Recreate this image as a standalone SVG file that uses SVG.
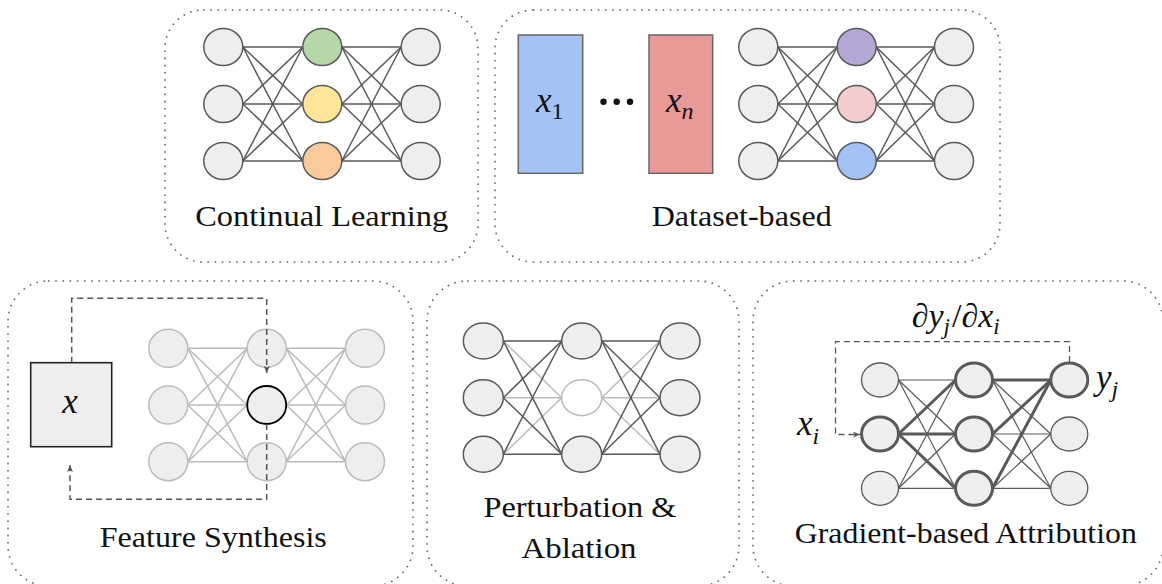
<svg xmlns="http://www.w3.org/2000/svg" width="1162" height="584" viewBox="0 0 1162 584">
<style>
.panel{fill:none;stroke:#666;stroke-width:1.6;stroke-dasharray:1.6 5.6}
.n{fill:#eeeeee;stroke:#595959;stroke-width:1.5}
.nl{fill:#eeeeee;stroke:#bbbbbb;stroke-width:1.5}
.nt{fill:#eeeeee;stroke:#595959;stroke-width:3}
.n5{fill:#eeeeee;stroke:#595959;stroke-width:1.3}
.e line{stroke:#595959;stroke-width:1.5}
.e5 line{stroke:#595959;stroke-width:1.2}
line.el{stroke:#bbbbbb;stroke-width:1.5}
line.et{stroke:#595959;stroke-width:3}
.dash{fill:none;stroke:#555;stroke-width:1.5;stroke-dasharray:6 4}
.lbl{font-size:29px;fill:#111;text-anchor:middle}
.m{fill:#111}
.i{font-style:italic}
</style>
<defs>
<marker id="ah" markerWidth="8" markerHeight="8" refX="7" refY="3" orient="auto" markerUnits="userSpaceOnUse"><path d="M0,0 L7,3 L0,6 L1.8,3 z" fill="#555"/></marker>
</defs>
<rect fill="#ffffff" x="0" y="0" width="1162" height="584"/>

<g id="frames">
<rect class="panel" x="165" y="10" width="313" height="252" rx="38"/>
<rect class="panel" x="495" y="10" width="505" height="252" rx="38"/>
<rect class="panel" x="8" y="281" width="405" height="305" rx="40"/>
<rect class="panel" x="427" y="281" width="312" height="305" rx="40"/>
<rect class="panel" x="753" y="281" width="410" height="305" rx="40"/>
</g>

<g id="connectors">
<g class="e" id="edges-p1">
<line x1="242.8" y1="47" x2="302.8" y2="47"/><line x1="242.8" y1="47" x2="302.8" y2="104"/><line x1="242.8" y1="47" x2="302.8" y2="161"/>
<line x1="242.8" y1="104" x2="302.8" y2="47"/><line x1="242.8" y1="104" x2="302.8" y2="104"/><line x1="242.8" y1="104" x2="302.8" y2="161"/>
<line x1="242.8" y1="161" x2="302.8" y2="47"/><line x1="242.8" y1="161" x2="302.8" y2="104"/><line x1="242.8" y1="161" x2="302.8" y2="161"/>
<line x1="341.8" y1="47" x2="401.2" y2="47"/><line x1="341.8" y1="47" x2="401.2" y2="104"/><line x1="341.8" y1="47" x2="401.2" y2="161"/>
<line x1="341.8" y1="104" x2="401.2" y2="47"/><line x1="341.8" y1="104" x2="401.2" y2="104"/><line x1="341.8" y1="104" x2="401.2" y2="161"/>
<line x1="341.8" y1="161" x2="401.2" y2="47"/><line x1="341.8" y1="161" x2="401.2" y2="104"/><line x1="341.8" y1="161" x2="401.2" y2="161"/>
</g>
<g class="e" id="edges-p2">
<line x1="777.8" y1="47" x2="837.2" y2="47"/><line x1="777.8" y1="47" x2="837.2" y2="104"/><line x1="777.8" y1="47" x2="837.2" y2="161"/>
<line x1="777.8" y1="104" x2="837.2" y2="47"/><line x1="777.8" y1="104" x2="837.2" y2="104"/><line x1="777.8" y1="104" x2="837.2" y2="161"/>
<line x1="777.8" y1="161" x2="837.2" y2="47"/><line x1="777.8" y1="161" x2="837.2" y2="104"/><line x1="777.8" y1="161" x2="837.2" y2="161"/>
<line x1="876.2" y1="47" x2="934.5" y2="47"/><line x1="876.2" y1="47" x2="934.5" y2="104"/><line x1="876.2" y1="47" x2="934.5" y2="161"/>
<line x1="876.2" y1="104" x2="934.5" y2="47"/><line x1="876.2" y1="104" x2="934.5" y2="104"/><line x1="876.2" y1="104" x2="934.5" y2="161"/>
<line x1="876.2" y1="161" x2="934.5" y2="47"/><line x1="876.2" y1="161" x2="934.5" y2="104"/><line x1="876.2" y1="161" x2="934.5" y2="161"/>
</g>
<g id="edges-p3">
<line class="el" x1="187.8" y1="348.3" x2="247.2" y2="348.3"/><line class="el" x1="187.8" y1="348.3" x2="247.2" y2="405"/><line class="el" x1="187.8" y1="348.3" x2="247.2" y2="461.7"/>
<line class="el" x1="187.8" y1="405" x2="247.2" y2="348.3"/><line class="el" x1="187.8" y1="405" x2="247.2" y2="405"/><line class="el" x1="187.8" y1="405" x2="247.2" y2="461.7"/>
<line class="el" x1="187.8" y1="461.7" x2="247.2" y2="348.3"/><line class="el" x1="187.8" y1="461.7" x2="247.2" y2="405"/><line class="el" x1="187.8" y1="461.7" x2="247.2" y2="461.7"/>
<line class="el" x1="286.2" y1="348.3" x2="345.5" y2="348.3"/><line class="el" x1="286.2" y1="348.3" x2="345.5" y2="405"/><line class="el" x1="286.2" y1="348.3" x2="345.5" y2="461.7"/>
<line class="el" x1="286.2" y1="405" x2="345.5" y2="348.3"/><line class="el" x1="286.2" y1="405" x2="345.5" y2="405"/><line class="el" x1="286.2" y1="405" x2="345.5" y2="461.7"/>
<line class="el" x1="286.2" y1="461.7" x2="345.5" y2="348.3"/><line class="el" x1="286.2" y1="461.7" x2="345.5" y2="405"/><line class="el" x1="286.2" y1="461.7" x2="345.5" y2="461.7"/>
</g>
<g class="e" id="edges-p4">
<line class="el" x1="503.3" y1="341" x2="561.7" y2="397.7"/><line class="el" x1="503.3" y1="397.7" x2="561.7" y2="397.7"/><line class="el" x1="503.3" y1="454.3" x2="561.7" y2="397.7"/>
<line class="el" x1="601.7" y1="397.7" x2="660" y2="341"/><line class="el" x1="601.7" y1="397.7" x2="660" y2="397.7"/><line class="el" x1="601.7" y1="397.7" x2="660" y2="454.3"/>
<line x1="503.3" y1="341" x2="561.7" y2="341"/><line x1="503.3" y1="341" x2="561.7" y2="454.3"/>
<line x1="503.3" y1="397.7" x2="561.7" y2="341"/><line x1="503.3" y1="397.7" x2="561.7" y2="454.3"/>
<line x1="503.3" y1="454.3" x2="561.7" y2="341"/><line x1="503.3" y1="454.3" x2="561.7" y2="454.3"/>
<line x1="601.7" y1="341" x2="660" y2="341"/><line x1="601.7" y1="341" x2="660" y2="397.7"/><line x1="601.7" y1="341" x2="660" y2="454.3"/>
<line x1="601.7" y1="454.3" x2="660" y2="341"/><line x1="601.7" y1="454.3" x2="660" y2="397.7"/><line x1="601.7" y1="454.3" x2="660" y2="454.3"/>
</g>
<g class="e5" id="edges-p5">
<line x1="898.5" y1="380" x2="955.5" y2="380"/><line x1="898.5" y1="380" x2="955.5" y2="434"/><line x1="898.5" y1="380" x2="955.5" y2="488.3"/>
<line x1="898.5" y1="488.3" x2="955.5" y2="380"/><line x1="898.5" y1="488.3" x2="955.5" y2="434"/><line x1="898.5" y1="488.3" x2="955.5" y2="488.3"/>
<line x1="992.5" y1="380" x2="1050.8" y2="434"/><line x1="992.5" y1="380" x2="1050.8" y2="488.3"/>
<line x1="992.5" y1="434" x2="1050.8" y2="434"/><line x1="992.5" y1="434" x2="1050.8" y2="488.3"/>
<line x1="992.5" y1="488.3" x2="1050.8" y2="434"/><line x1="992.5" y1="488.3" x2="1050.8" y2="488.3"/>
<line class="et" x1="898.5" y1="434" x2="955.5" y2="380"/><line class="et" x1="898.5" y1="434" x2="955.5" y2="434"/><line class="et" x1="898.5" y1="434" x2="955.5" y2="488.3"/>
<line class="et" x1="992.5" y1="380" x2="1050.8" y2="380"/><line class="et" x1="992.5" y1="434" x2="1050.8" y2="380"/><line class="et" x1="992.5" y1="488.3" x2="1050.8" y2="380"/>
</g>
</g>

<g id="continual-learning">
<g id="p1-l1"><ellipse class="n" cx="223.3" cy="47" rx="19.5" ry="18.5"/></g>
<g id="p1-l2"><ellipse class="n" cx="223.3" cy="104" rx="19.5" ry="18.5"/></g>
<g id="p1-l3"><ellipse class="n" cx="223.3" cy="161" rx="19.5" ry="18.5"/></g>
<g id="p1-m1"><ellipse class="n" cx="322.3" cy="47" rx="19.5" ry="18.5" style="fill:#b6d7a8"/></g>
<g id="p1-m2"><ellipse class="n" cx="322.3" cy="104" rx="19.5" ry="18.5" style="fill:#ffe599"/></g>
<g id="p1-m3"><ellipse class="n" cx="322.3" cy="161" rx="19.5" ry="18.5" style="fill:#f9cb9c"/></g>
<g id="p1-r1"><ellipse class="n" cx="420.7" cy="47" rx="19.5" ry="18.5"/></g>
<g id="p1-r2"><ellipse class="n" cx="420.7" cy="104" rx="19.5" ry="18.5"/></g>
<g id="p1-r3"><ellipse class="n" cx="420.7" cy="161" rx="19.5" ry="18.5"/></g>
<text class="lbl" font-family="Liberation Serif, serif" x="321.7" y="226" textLength="253" lengthAdjust="spacingAndGlyphs">Continual Learning</text>
</g>

<g id="dataset-based">
<g id="p2-x1"><rect x="518.3" y="35" width="64.4" height="138.3" fill="#a4c2f4" stroke="#666" stroke-width="1.5"/>
<text class="m" font-family="Liberation Serif, serif" x="536" y="112" font-size="35"><tspan class="i">x</tspan><tspan font-size="24" dy="7">1</tspan></text></g>
<g id="p2-dots"><circle cx="603.5" cy="101.7" r="3.2" fill="#111"/><circle cx="616.7" cy="101.7" r="3.2" fill="#111"/><circle cx="630" cy="101.7" r="3.2" fill="#111"/></g>
<g id="p2-xn"><rect x="649" y="35" width="63.7" height="138.3" fill="#ea9999" stroke="#666" stroke-width="1.5"/>
<text class="m" font-family="Liberation Serif, serif" x="666" y="112" font-size="35"><tspan class="i">x</tspan><tspan class="i" font-size="24" dy="7">n</tspan></text></g>
<g id="p2-l1"><ellipse class="n" cx="758.3" cy="47" rx="19.5" ry="18.5"/></g>
<g id="p2-l2"><ellipse class="n" cx="758.3" cy="104" rx="19.5" ry="18.5"/></g>
<g id="p2-l3"><ellipse class="n" cx="758.3" cy="161" rx="19.5" ry="18.5"/></g>
<g id="p2-m1"><ellipse class="n" cx="856.7" cy="47" rx="19.5" ry="18.5" style="fill:#b4a7d6"/></g>
<g id="p2-m2"><ellipse class="n" cx="856.7" cy="104" rx="19.5" ry="18.5" style="fill:#f4cccc"/></g>
<g id="p2-m3"><ellipse class="n" cx="856.7" cy="161" rx="19.5" ry="18.5" style="fill:#a4c2f4"/></g>
<g id="p2-r1"><ellipse class="n" cx="954" cy="47" rx="19.5" ry="18.5"/></g>
<g id="p2-r2"><ellipse class="n" cx="954" cy="104" rx="19.5" ry="18.5"/></g>
<g id="p2-r3"><ellipse class="n" cx="954" cy="161" rx="19.5" ry="18.5"/></g>
<text class="lbl" font-family="Liberation Serif, serif" x="741.7" y="226" textLength="180" lengthAdjust="spacingAndGlyphs">Dataset-based</text>
</g>

<g id="feature-synthesis">
<g id="p3-x"><rect x="30.7" y="362.7" width="81" height="84" fill="#eeeeee" stroke="#222" stroke-width="1.6"/>
<text class="m i" font-family="Liberation Serif, serif" x="70" y="412.5" font-size="35" text-anchor="middle">x</text></g>
<g id="p3-l1"><ellipse class="nl" cx="168.3" cy="348.3" rx="19.5" ry="19"/></g>
<g id="p3-l2"><ellipse class="nl" cx="168.3" cy="405" rx="19.5" ry="19"/></g>
<g id="p3-l3"><ellipse class="nl" cx="168.3" cy="461.7" rx="19.5" ry="19"/></g>
<g id="p3-m1"><ellipse class="nl" cx="266.7" cy="348.3" rx="19.5" ry="19"/></g>
<g id="p3-m2"><ellipse cx="266.7" cy="405" rx="19.5" ry="19" fill="#eeeeee" stroke="#000" stroke-width="1.8"/></g>
<g id="p3-m3"><ellipse class="nl" cx="266.7" cy="461.7" rx="19.5" ry="19"/></g>
<g id="p3-r1"><ellipse class="nl" cx="365" cy="348.3" rx="19.5" ry="19"/></g>
<g id="p3-r2"><ellipse class="nl" cx="365" cy="405" rx="19.5" ry="19"/></g>
<g id="p3-r3"><ellipse class="nl" cx="365" cy="461.7" rx="19.5" ry="19"/></g>
<text class="lbl" font-family="Liberation Serif, serif" x="213.3" y="547" textLength="227" lengthAdjust="spacingAndGlyphs">Feature Synthesis</text>
</g>

<g id="perturbation-ablation">
<g id="p4-l1"><ellipse class="n" cx="483.3" cy="341" rx="20" ry="18"/></g>
<g id="p4-l2"><ellipse class="n" cx="483.3" cy="397.7" rx="20" ry="18"/></g>
<g id="p4-l3"><ellipse class="n" cx="483.3" cy="454.3" rx="20" ry="18"/></g>
<g id="p4-m1"><ellipse class="n" cx="581.7" cy="341" rx="20" ry="18"/></g>
<g id="p4-m2"><ellipse cx="581.7" cy="397.7" rx="20" ry="18" fill="#ffffff" stroke="#bbbbbb" stroke-width="1.5"/></g>
<g id="p4-m3"><ellipse class="n" cx="581.7" cy="454.3" rx="20" ry="18"/></g>
<g id="p4-r1"><ellipse class="n" cx="680" cy="341" rx="20" ry="18"/></g>
<g id="p4-r2"><ellipse class="n" cx="680" cy="397.7" rx="20" ry="18"/></g>
<g id="p4-r3"><ellipse class="n" cx="680" cy="454.3" rx="20" ry="18"/></g>
<text class="lbl" font-family="Liberation Serif, serif" x="580" y="516.5" textLength="193" lengthAdjust="spacingAndGlyphs">Perturbation &amp;</text>
<text class="lbl" font-family="Liberation Serif, serif" x="579" y="558" textLength="115" lengthAdjust="spacingAndGlyphs">Ablation</text>
</g>

<g id="gradient-attribution">
<g id="p5-l1"><ellipse class="n5" cx="880" cy="380" rx="18.5" ry="17"/></g>
<g id="p5-l2"><ellipse class="nt" cx="880" cy="434" rx="18.5" ry="17"/></g>
<g id="p5-l3"><ellipse class="n5" cx="880" cy="488.3" rx="18.5" ry="17"/></g>
<g id="p5-m1"><ellipse class="nt" cx="974" cy="380" rx="18.5" ry="17"/></g>
<g id="p5-m2"><ellipse class="nt" cx="974" cy="434" rx="18.5" ry="17"/></g>
<g id="p5-m3"><ellipse class="nt" cx="974" cy="488.3" rx="18.5" ry="17"/></g>
<g id="p5-r1"><ellipse class="nt" cx="1069.3" cy="380" rx="18.5" ry="17"/></g>
<g id="p5-r2"><ellipse class="n5" cx="1069.3" cy="434" rx="18.5" ry="17"/></g>
<g id="p5-r3"><ellipse class="n5" cx="1069.3" cy="488.3" rx="18.5" ry="17"/></g>
<text class="m" font-family="Liberation Serif, serif" x="911.7" y="327" font-size="34"><tspan>∂</tspan><tspan class="i">y</tspan><tspan class="i" font-size="23" dy="7">j</tspan><tspan dy="-7" dx="2">/∂</tspan><tspan class="i">x</tspan><tspan class="i" font-size="23" dy="7">i</tspan></text>
<text class="m" font-family="Liberation Serif, serif" x="797" y="435" font-size="35"><tspan class="i">x</tspan><tspan class="i" font-size="24" dy="9">i</tspan></text>
<text class="m" font-family="Liberation Serif, serif" x="1096" y="389" font-size="35"><tspan class="i">y</tspan><tspan class="i" font-size="24" dy="8">j</tspan></text>
<text class="lbl" font-family="Liberation Serif, serif" x="965.8" y="543" textLength="342" lengthAdjust="spacingAndGlyphs">Gradient-based Attribution</text>
</g>

<g id="arrows">
<path class="dash" d="M71.7,362.7 V298.3 H266.7 V373" marker-end="url(#ah)"/>
<path class="dash" d="M266.7,424 V499.3 H70 V465" marker-end="url(#ah)"/>
<path class="dash" d="M1069.5,362 V341.7 H835.5 V434.5 H860" style="stroke-width:1.3" marker-end="url(#ah)"/>
</g>
</svg>
